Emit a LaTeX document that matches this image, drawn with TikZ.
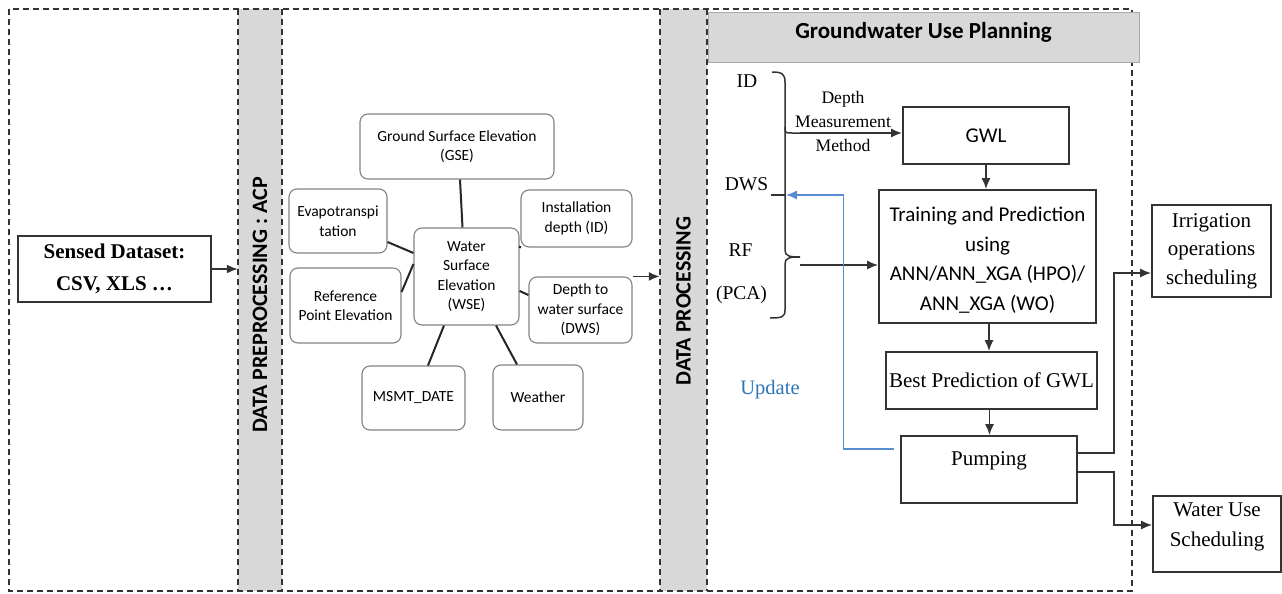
\documentclass[tikz,border=0pt]{standalone}
\usepackage{fontspec}
\setmainfont{Liberation Serif}
\newfontfamily\calfont{Carlito}
\usetikzlibrary{arrows.meta}
\definecolor{bandgray}{RGB}{216,216,216}
\definecolor{hdrline}{RGB}{170,170,170}
\definecolor{roundline}{RGB}{130,130,130}
\definecolor{upline}{RGB}{90,140,210}
\definecolor{uptext}{RGB}{46,117,182}
\begin{document}
\begin{tikzpicture}[x=1pt,y=-1pt,
  frame/.style={draw=black!80,line width=1.5pt,dash pattern=on 6pt off 4pt},
  band/.style={fill=bandgray,draw=none,minimum width=#1,minimum height=582pt,inner sep=0pt},
  bandtext/.style={rotate=90,font=\calfont\bfseries\fontsize{22}{26}\selectfont},
  rbox/.style={draw=roundline,line width=1.1pt,rounded corners=8pt,align=center,inner sep=0pt,
    font=\calfont\fontsize{15.5}{19.5}\selectfont},
  sbox/.style={draw=black!80,line width=1.7pt,align=center,inner sep=0pt},
  calbox/.style={sbox,font=\calfont\fontsize{21}{29.6}\selectfont},
  serbox/.style={sbox,font=\fontsize{21}{29}\selectfont},
  sertext/.style={align=center,inner sep=0pt},
  link/.style={draw=black!80,line width=1.7pt},
  spoke/.style={draw=black!85,line width=2pt},
  arr/.style={link,-{Latex[length=11pt,width=9pt]}},
]
\useasboundingbox (0,0) rectangle (1282,594);

% grey process bands
\node[band=44pt] (band1) at (260,300) {};
\node[band=47pt] (band2) at (683.5,300) {};
\node[bandtext] (band1text) at (260,305) {DATA PREPROCESSING : ACP};
\node[bandtext] (band2text) at (683.5,301) {DATA PROCESSING};

% dashed panel frames
\draw[frame] (9,9) rectangle (1132,591);
\draw[frame] (238,9) -- (238,591);
\draw[frame] (282,9) -- (282,591);
\draw[frame] (660,9) -- (660,591);
\draw[frame] (707,9) -- (707,591);

% panel header
\node[fill=bandgray,draw=hdrline,line width=1pt,minimum width=431pt,minimum height=50pt,inner sep=0pt]
  (hdr) at (923.5,38) {};
\node[font=\calfont\bfseries\fontsize{23}{27}\selectfont,inner sep=0pt] (hdrtext)
  at ([yshift=6pt]hdr.center) {Groundwater Use Planning};

% input data
\node[sbox,minimum width=193pt,minimum height=66pt,font=\bfseries\fontsize{21}{32}\selectfont]
  (sensed) at (114.5,269) {Sensed Dataset:\\CSV, XLS \dots};
\draw[arr] (sensed.east) -- (sensed.east -| band1.west);

% attributes around the water surface elevation
\node[rbox,minimum width=194pt,minimum height=65pt] (gse) at (457,146.5) {Ground Surface Elevation\\(GSE)};
\node[rbox,minimum width=98pt,minimum height=64pt] (evap) at (338,221) {Evapotranspi\\tation};
\node[rbox,minimum width=111pt,minimum height=57pt] (idn) at (576.5,218.5) {Installation\\depth (ID)};
\node[rbox,minimum width=105pt,minimum height=97pt] (wse) at (466.5,276.5) {Water\\Surface\\Elevation\\(WSE)};
\node[rbox,minimum width=111pt,minimum height=75pt] (rpe) at (345.5,305.5) {Reference\\Point Elevation};
\node[rbox,minimum width=103pt,minimum height=66pt] (dws) at (580.5,310) {Depth to\\water surface\\(DWS)};
\node[rbox,minimum width=103pt,minimum height=64pt] (msmt) at (413.5,398) {MSMT\_DATE};
\node[rbox,minimum width=90pt,minimum height=65pt] (weather) at (538,397.5) {Weather};

\draw[spoke] ([xshift=3pt]gse.south) -- ([xshift=-4pt]wse.north);
\draw[spoke] ([yshift=-21pt]evap.east) -- ([yshift=23.5pt]wse.west);
\draw[spoke] ([yshift=13.5pt]rpe.east) -- ([yshift=12.5pt]wse.west);
\draw[spoke] ([yshift=-27.5pt]idn.west) -- ([yshift=28.5pt]wse.east);
\draw[spoke] ([yshift=15pt]dws.west) -- ([yshift=-14.5pt]wse.east);
\draw[spoke] ([xshift=14.5pt]msmt.north) -- ([xshift=-22.5pt]wse.south);
\draw[spoke] ([xshift=-21pt]weather.north) -- ([xshift=29.5pt]wse.south);
\draw[arr] (dws.north east) -- (dws.north east -| band2.west);

% measured variables and their brace
\node[font=\fontsize{19.5}{22}\selectfont,inner sep=0pt] (idl) at (747,81) {ID};
\node[font=\fontsize{19.5}{22}\selectfont,inner sep=0pt] (dwsl) at (746.5,184) {DWS};
\node[font=\fontsize{19.5}{22}\selectfont,inner sep=0pt] (rfl) at (740.5,250) {RF};
\node[font=\fontsize{19.5}{22}\selectfont,inner sep=0pt] (pcal) at (741.5,295) {(PCA)};
\node[font=\fontsize{20.5}{24}\selectfont,text=uptext,inner sep=0pt] (upd) at (770,390) {Update};

\draw[link,line width=1.5pt]
  (772,72) .. controls (782,72) and (785,74) .. (785,82) -- (785,250)
  .. controls (785,256) and (789,257) .. (800,257)
  .. controls (789,257) and (785,258) .. (785,264) -- (785,310)
  .. controls (785,317) and (782,318) .. (770,318);
\draw[link,line width=1.5pt] (771,195) -- (785,195);
\coordinate (dwsin) at (786,195);
\coordinate (branch) at (785,127);
\coordinate (bracetip) at (800,265);

% planning chain
\node[calbox,minimum width=166pt,minimum height=57pt] (gwl) at (986,135.5) {GWL};
\node[calbox,minimum width=217pt,minimum height=133pt] (train) at (987.5,256.5) {};
\node[sertext,font=\calfont\fontsize{21}{29.6}\selectfont] (traintext) at ([yshift=-3.5pt]train.center)
  {Training and Prediction\\using\\ANN/ANN\_XGA (HPO)/\\ANN\_XGA (WO)};
\node[serbox,minimum width=211pt,minimum height=57pt] (best) at (991.5,380.5) {Best Prediction of GWL};
\node[serbox,minimum width=176pt,minimum height=67pt] (pump) at (989,469.5) {};
\node[sertext,font=\fontsize{21}{29}\selectfont] (pumptext) at ([yshift=9pt]pump.center) {Pumping};
\node[serbox,minimum width=119pt,minimum height=92pt,font=\fontsize{21}{28.5}\selectfont]
  (irr) at (1211.5,251) {Irrigation\\operations\\scheduling};
\node[serbox,minimum width=128pt,minimum height=76pt] (wus) at (1217,534) {};
\node[sertext,font=\fontsize{21}{30}\selectfont] (wustext) at ([yshift=7pt]wus.center) {Water Use\\Scheduling};

\draw[link,line width=1.5pt] (branch) .. controls (785,133) .. (792,133) -- (800,133);
\draw[arr] (800,133) -- ([yshift=2.5pt]gwl.west);
\node[sertext,font=\fontsize{17.6}{24}\selectfont] (dmm) at (843,121) {Depth\\Measurement\\Method};
\draw[arr] (bracetip) -- (bracetip -| train.west);
\draw[arr] (gwl.south) -- (gwl.south |- train.north);
\draw[arr] ([xshift=1.5pt]train.south) -- ([xshift=1.5pt]train.south |- best.north);
\draw[arr] ([xshift=-2pt]best.south) -- ([xshift=-2pt]best.south |- pump.north);

% update loop back to the measured depth
\draw[upline,line width=1.3pt,-{Latex[length=11pt,width=9pt]}]
  ([xshift=-6pt,yshift=20.5pt]pump.west) -- ++(-51,0) |- (dwsin);

% scheduling outputs
\draw[arr] ([yshift=16.5pt]pump.east) -- ++(36,0) |- ([yshift=-22pt]irr.west);
\draw[arr] ([yshift=-2.5pt]pump.east) -- ++(36,0) |- ([yshift=9pt]wus.west);
\end{tikzpicture}
\end{document}
